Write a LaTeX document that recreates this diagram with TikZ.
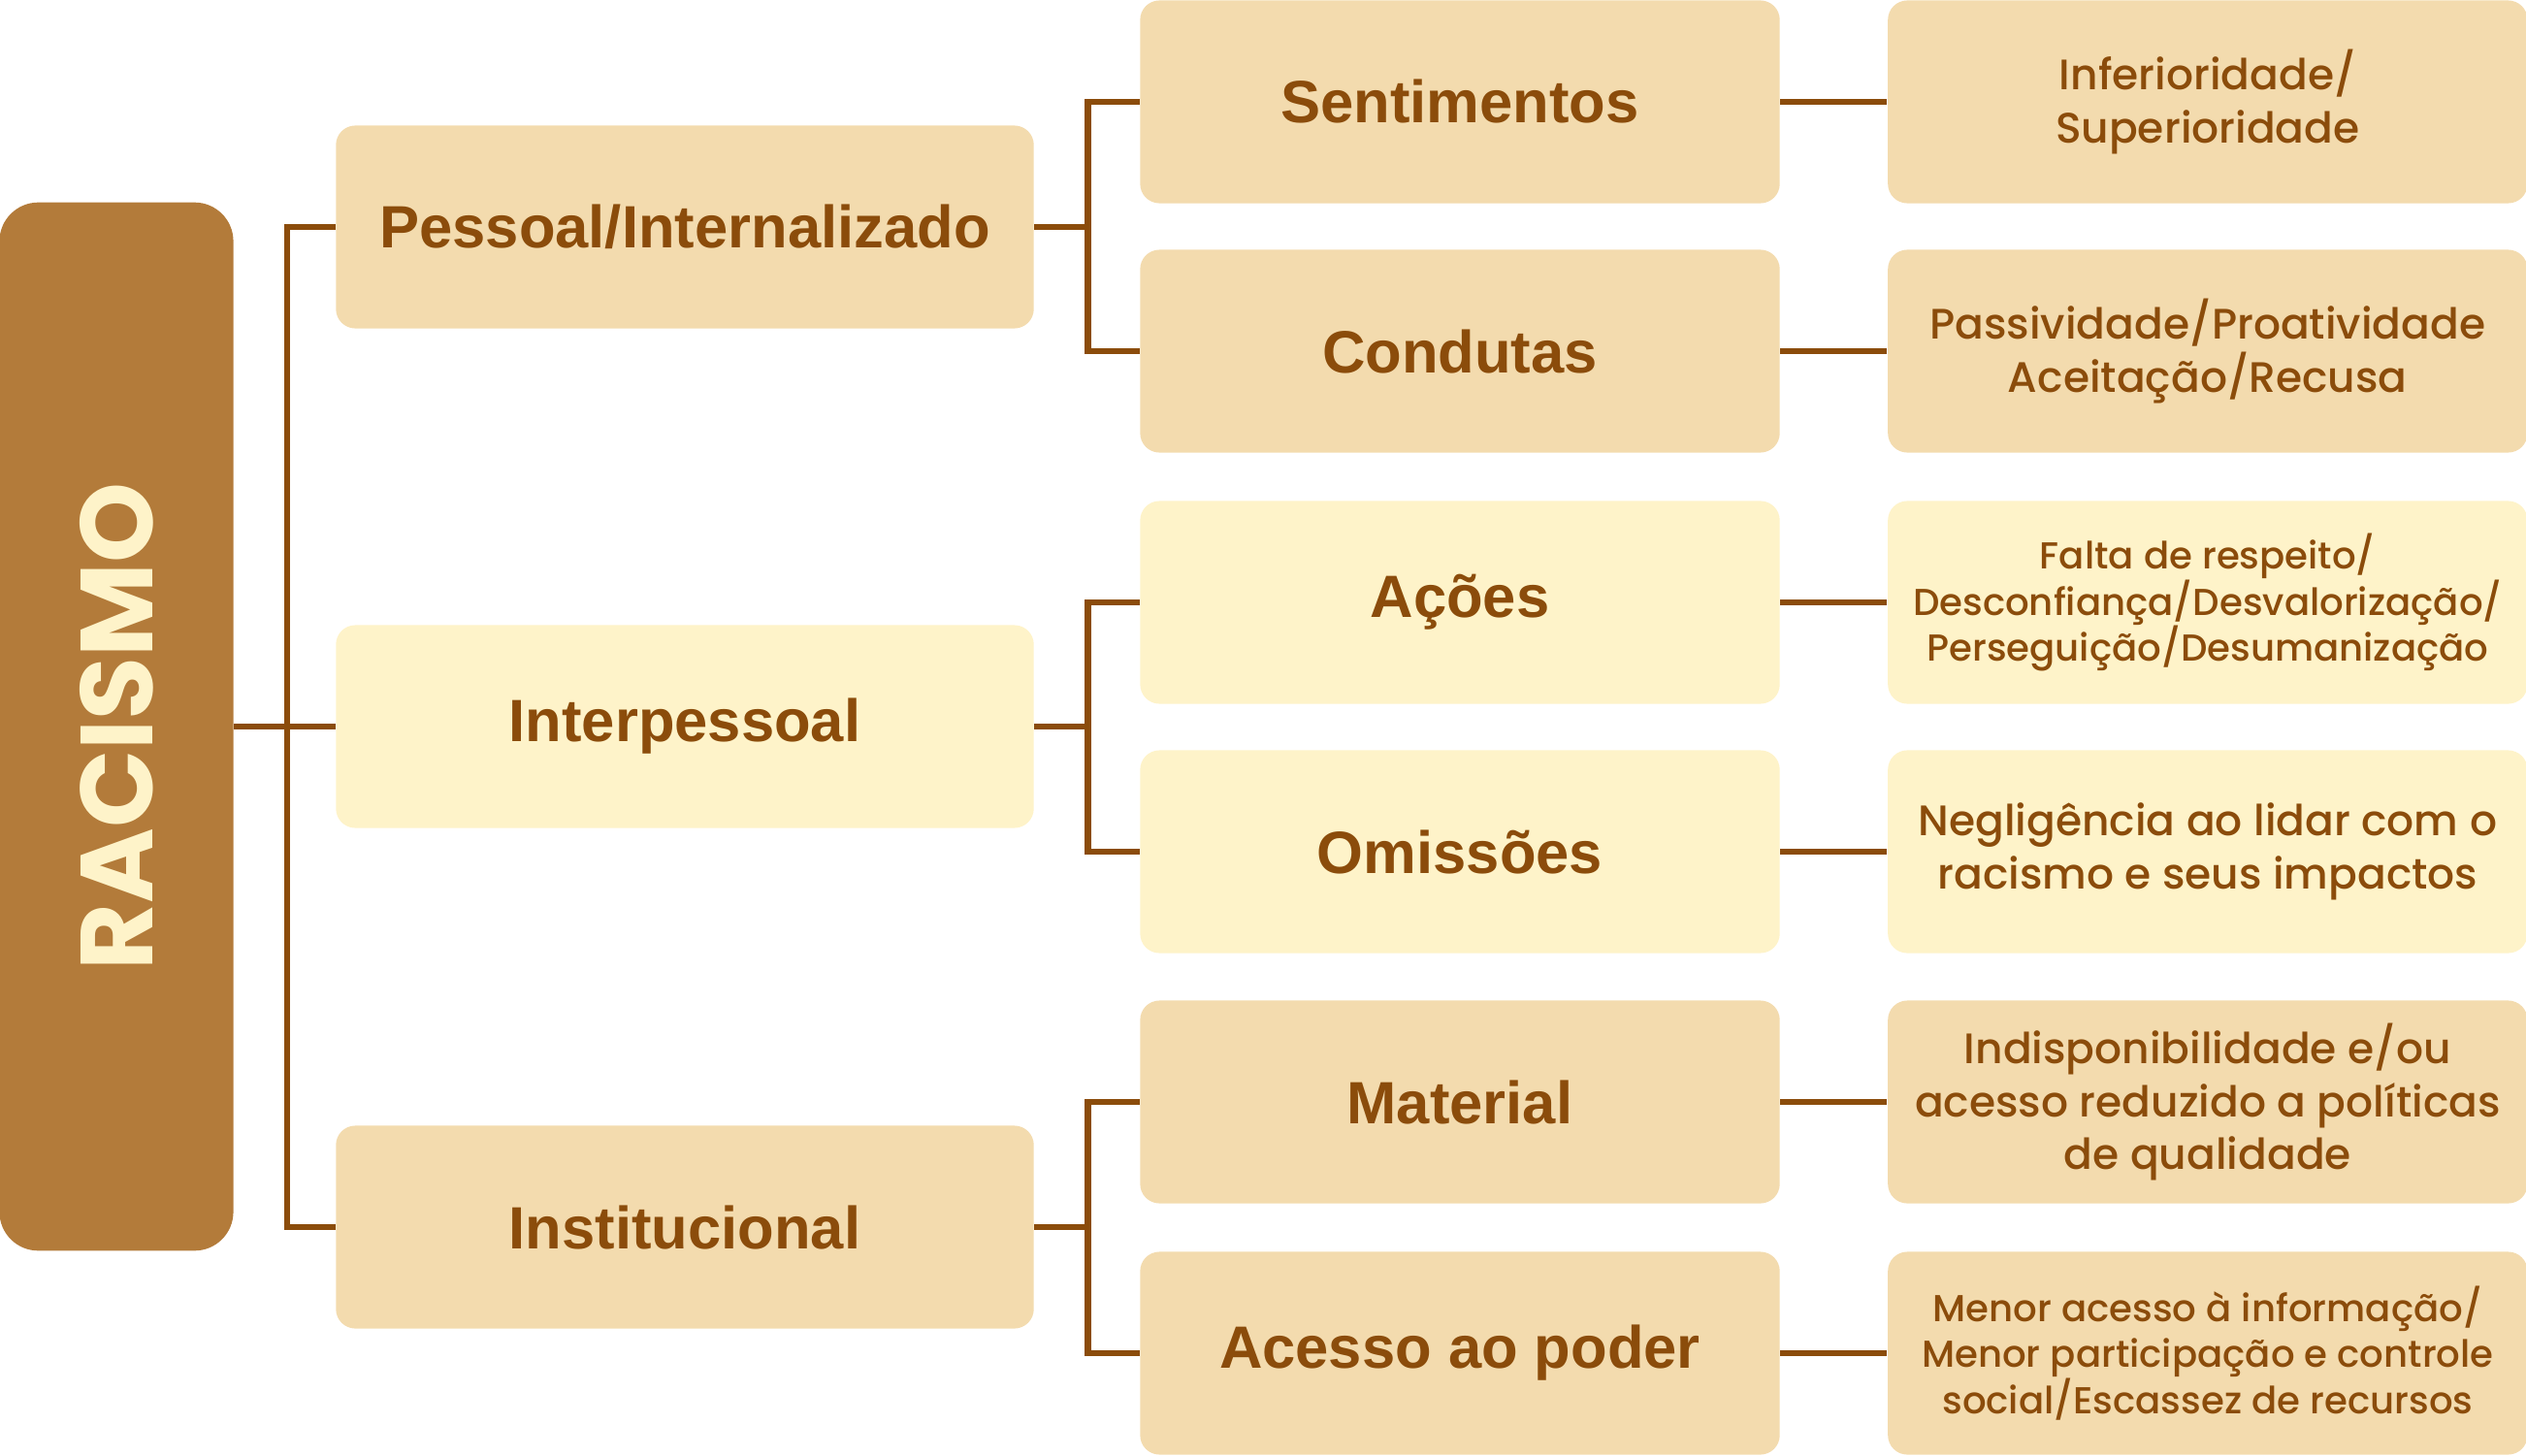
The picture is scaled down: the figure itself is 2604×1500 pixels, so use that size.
\documentclass[tikz,border=0pt]{standalone}
\usepackage{fontspec}
\setmainfont{Poppins}
\newfontfamily\medfont{Poppins Medium}
\newfontfamily\headfont{Liberation Sans}
\newcommand\tightlines{\lineskiplimit=-20pt\relax}
\usetikzlibrary{positioning}
\definecolor{tan}{RGB}{243,219,174}
\definecolor{cream}{RGB}{254,243,201}
\definecolor{ochre}{RGB}{179,123,58}
\definecolor{umber}{RGB}{139,76,11}

\begin{document}
\begin{tikzpicture}[
        x=0.01cm, y=-0.01cm,
        node distance=1.1cm,
        root/.style={rectangle, fill=ochre, rounded corners=0.4cm, minimum width=2.41cm, minimum height=10.8cm, inner sep=0pt, text=cream, font=\bfseries\fontsize{30}{30}\selectfont},
        box/.style={rectangle, fill=tan, rounded corners=0.2cm, minimum height=2.09cm, inner sep=0pt, text=umber, align=center},
        group/.style={box, minimum width=7.19cm, font=\headfont\bfseries\fontsize{17.5}{20}\selectfont},
        kind/.style={box, minimum width=6.59cm, font=\headfont\bfseries\fontsize{17.5}{20}\selectfont},
        effect/.style={box, minimum width=6.59cm, font=\medfont\tightlines\fontsize{12.5}{15.6}\selectfont},
        small/.style={font=\medfont\tightlines\fontsize{11}{13.6}\selectfont},
        light/.style={fill=cream},
        line/.style={draw=umber, line width=1.8pt}
        ]
        \useasboundingbox (0,0) rectangle (2604,1500);

        \node[root] (racismo) at (120,749) {\rotatebox{90}{RACISMO}};

        \node[group] (pessoal) at (706,234) {Pessoal/Internalizado};
        \node[group, light] (interpessoal) at (706,749) {Interpessoal};
        \node[group] (institucional) at (706,1265) {Institucional};

        \node[kind] (sentimentos) at (1505,105) {Sentimentos};
        \node[kind] (condutas) at (1505,362) {Condutas};
        \node[kind, light] (acoes) at (1505,621) {Ações};
        \node[kind, light] (omissoes) at (1505,878) {Omissões};
        \node[kind] (material) at (1505,1136) {Material};
        \node[kind] (acesso) at (1505,1395) {Acesso ao poder};

        \node[effect, right=of sentimentos] (inferioridade) {Inferioridade/\\Superioridade};
        \node[effect, right=of condutas] (passividade) {Passividade/Proatividade\\Aceitação/Recusa};
        \node[effect, small, light, right=of acoes] (falta) {Falta de respeito/\\Desconfiança/Desvalorização/\\Perseguição/Desumanização};
        \node[effect, light, right=of omissoes] (negligencia) {Negligência ao lidar com o\\racismo e seus impactos};
        \node[effect, right=of material] (indisponibilidade) {Indisponibilidade e/ou\\acesso reduzido a políticas\\de qualidade};
        \node[effect, small, right=of acesso] (menor) {Menor acesso à informação/\\Menor participação e controle\\social/Escassez de recursos};

        \coordinate (trunk) at (296,749);
        \path[line] (racismo) -- (interpessoal);
        \path[line] (pessoal.west) -| (trunk) |- (institucional.west);

        \foreach \g/\a/\b in {pessoal/sentimentos/condutas, interpessoal/acoes/omissoes, institucional/material/acesso} {
            \path[line] (\a.west) -- ++(-53,0) coordinate (fork) |- (\b.west);
            \path[line] (\g.east) -- (\g.east -| fork);
        }

        \foreach \a/\b in {sentimentos/inferioridade, condutas/passividade, acoes/falta, omissoes/negligencia, material/indisponibilidade, acesso/menor}
            \path[line] (\a) -- (\b);
      \end{tikzpicture}
\end{document}
